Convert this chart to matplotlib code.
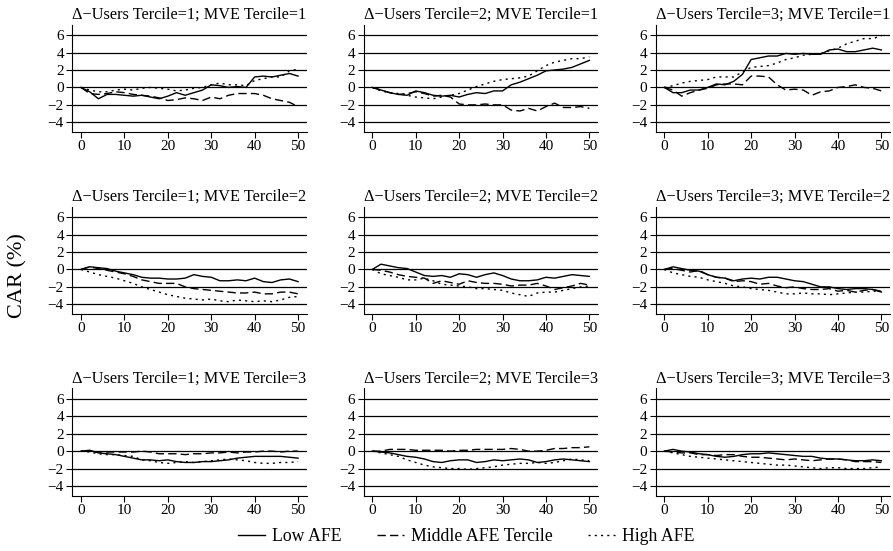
import matplotlib
matplotlib.use('Agg')
import matplotlib.pyplot as plt

plt.rcParams['font.family'] = ['Liberation Serif', 'DejaVu Serif']

# event days (every 2nd day)
dias = list(range(0, 51, 2))

# CAR (%) por painel: (tercil de usuarios, tercil de MVE)
low_11 = [0, -0.5, -1.3, -0.8, -0.8, -0.9, -1.0, -0.9, -1.1, -1.3, -1.0, -0.6, -0.9, -0.6, -0.3, 0.3, 0.2, 0.0, 0.1, 0.0, 1.2, 1.3, 1.2, 1.4, 1.6, 1.3]
mid_11 = [0, -0.7, -0.8, -0.7, -0.5, -0.6, -0.8, -0.9, -1.0, -1.2, -1.5, -1.4, -1.2, -1.3, -1.5, -1.1, -1.3, -0.9, -0.7, -0.7, -0.7, -0.9, -1.3, -1.5, -1.7, -2.2]
high_11 = [0, -0.3, -0.5, -0.5, -0.3, -0.2, -0.3, -0.1, 0.0, -0.1, -0.2, -0.4, -0.3, -0.1, 0.0, 0.3, 0.5, 0.3, 0.3, 0.2, 0.8, 1.0, 1.2, 1.2, 1.9, 2.1]

low_21 = [0, -0.3, -0.6, -0.8, -0.9, -0.4, -0.6, -0.9, -1.0, -0.9, -1.1, -0.8, -0.6, -0.7, -0.4, -0.4, 0.3, 0.6, 1.0, 1.4, 1.9, 2.0, 2.1, 2.3, 2.7, 3.1]
mid_21 = [0, -0.3, -0.6, -0.8, -0.7, -0.5, -0.7, -1.0, -0.9, -1.1, -1.9, -2.0, -2.0, -1.9, -2.0, -2.0, -2.6, -2.7, -2.4, -2.7, -2.2, -1.8, -2.3, -2.3, -2.2, -2.4]
high_21 = [0, -0.4, -0.6, -0.7, -0.9, -1.1, -1.2, -1.3, -1.1, -0.9, -0.7, -0.3, 0.1, 0.4, 0.7, 0.9, 1.0, 1.1, 1.3, 1.9, 2.5, 2.9, 3.1, 3.3, 3.3, 3.5]

low_31 = [0, -0.6, -0.6, -0.3, -0.3, 0.0, 0.4, 0.3, 0.7, 1.5, 3.2, 3.4, 3.6, 3.6, 3.9, 3.8, 3.9, 3.8, 3.8, 4.3, 4.4, 4.1, 4.1, 4.3, 4.5, 4.3]
mid_31 = [0, -0.3, -1.0, -0.6, -0.3, -0.1, 0.3, 0.4, 0.4, 0.3, 1.3, 1.3, 1.2, 0.3, -0.3, -0.2, -0.3, -0.9, -0.5, -0.4, 0.0, 0.1, 0.3, 0.0, -0.1, -0.4]
high_31 = [0, 0.2, 0.5, 0.7, 0.8, 0.9, 1.2, 1.2, 1.2, 1.8, 2.3, 2.4, 2.5, 2.8, 3.2, 3.4, 3.7, 3.8, 3.9, 4.2, 4.5, 5.0, 5.3, 5.6, 5.6, 5.9]

low_12 = [0, 0.3, 0.2, 0.1, -0.2, -0.4, -0.6, -0.9, -1.0, -1.0, -1.1, -1.1, -1.0, -0.6, -0.8, -0.9, -1.3, -1.3, -1.2, -1.3, -1.0, -1.4, -1.5, -1.2, -1.1, -1.4]
mid_12 = [0, 0.3, 0.1, -0.1, -0.3, -0.5, -0.8, -1.2, -1.4, -1.6, -1.6, -1.6, -2.0, -2.2, -2.3, -2.4, -2.5, -2.6, -2.7, -2.7, -2.6, -2.8, -2.8, -2.6, -2.6, -2.8]
high_12 = [0, -0.3, -0.6, -0.8, -1.0, -1.3, -1.6, -2.0, -2.3, -2.6, -2.9, -3.1, -3.3, -3.4, -3.5, -3.4, -3.6, -3.7, -3.5, -3.6, -3.7, -3.6, -3.7, -3.5, -3.2, -3.1]

low_22 = [0, 0.6, 0.4, 0.2, 0.1, -0.3, -0.7, -0.8, -0.7, -0.9, -0.5, -0.6, -0.9, -0.6, -0.4, -0.7, -1.1, -1.3, -1.3, -1.2, -0.9, -1.0, -0.8, -0.6, -0.7, -0.8]
mid_22 = [0, -0.1, -0.3, -0.6, -0.8, -0.9, -1.0, -1.6, -1.3, -1.5, -1.7, -1.3, -1.5, -1.6, -1.6, -1.7, -1.9, -1.8, -1.8, -1.6, -1.9, -2.3, -2.1, -1.9, -1.6, -1.8]
high_22 = [0, -0.5, -0.7, -0.9, -1.2, -1.2, -1.0, -1.3, -1.7, -1.8, -1.9, -2.0, -2.2, -2.2, -2.3, -2.4, -2.7, -2.9, -3.1, -2.7, -2.6, -2.6, -2.4, -2.2, -2.0, -1.9]

low_32 = [0, 0.3, 0.1, -0.1, -0.2, -0.6, -0.9, -1.0, -1.3, -1.1, -1.0, -1.1, -0.9, -0.9, -1.1, -1.3, -1.4, -1.7, -2.0, -2.0, -2.2, -2.3, -2.2, -2.2, -2.3, -2.6]
mid_32 = [0, 0.1, -0.1, -0.3, -0.1, -0.6, -0.9, -1.0, -1.4, -1.3, -1.4, -1.7, -1.6, -1.9, -2.1, -2.0, -2.2, -2.3, -2.3, -2.2, -2.5, -2.4, -2.6, -2.4, -2.3, -2.5]
high_32 = [0, -0.4, -0.6, -0.8, -0.9, -1.2, -1.4, -1.6, -1.9, -2.0, -2.2, -2.3, -2.4, -2.6, -2.8, -2.8, -2.7, -2.8, -2.8, -2.9, -2.8, -2.7, -2.6, -2.6, -2.5, -2.5]

low_13 = [0, 0.1, -0.2, -0.3, -0.4, -0.6, -0.8, -1.0, -1.0, -1.1, -1.0, -1.2, -1.3, -1.3, -1.2, -1.2, -1.1, -1.0, -0.8, -0.7, -0.6, -0.6, -0.6, -0.6, -0.7, -0.8]
mid_13 = [0, 0.0, -0.1, -0.1, -0.1, -0.1, -0.1, 0.0, -0.1, -0.3, -0.3, -0.3, -0.4, -0.3, -0.3, -0.2, -0.2, -0.1, -0.2, -0.1, -0.1, 0.0, 0.0, -0.1, 0.0, 0.0]
high_13 = [0, -0.1, -0.3, -0.4, -0.4, -0.5, -0.6, -1.0, -1.1, -1.3, -1.4, -1.3, -1.2, -1.3, -1.2, -1.1, -1.0, -0.9, -1.0, -1.1, -1.3, -1.4, -1.4, -1.3, -1.3, -1.2]

low_23 = [0, -0.1, -0.2, -0.4, -0.6, -0.7, -0.9, -1.2, -1.3, -1.1, -1.0, -1.0, -1.3, -1.2, -1.0, -1.1, -1.0, -0.9, -1.0, -1.3, -1.2, -1.0, -0.9, -1.0, -1.1, -1.2]
mid_23 = [0, 0.0, 0.2, 0.2, 0.2, 0.1, 0.1, 0.1, 0.1, 0.0, 0.1, 0.1, 0.2, 0.2, 0.2, 0.2, 0.3, 0.2, 0.0, 0.0, 0.1, 0.3, 0.3, 0.4, 0.4, 0.5]
high_23 = [0, -0.2, -0.4, -0.6, -1.0, -1.3, -1.6, -1.8, -1.9, -2.0, -2.0, -2.1, -2.0, -1.9, -1.8, -1.6, -1.5, -1.4, -1.4, -1.3, -1.4, -1.3, -1.1, -0.9, -1.0, -1.1]

low_33 = [0, 0.2, 0.0, -0.1, -0.3, -0.4, -0.6, -0.7, -0.6, -0.4, -0.3, -0.3, -0.2, -0.3, -0.4, -0.5, -0.6, -0.6, -0.8, -0.9, -0.9, -1.0, -1.1, -1.1, -1.0, -1.1]
mid_33 = [0, -0.1, -0.2, -0.2, -0.4, -0.4, -0.5, -0.4, -0.4, -0.6, -0.7, -0.7, -0.8, -0.9, -1.0, -0.9, -1.0, -1.1, -1.0, -0.9, -0.9, -1.0, -1.2, -1.2, -1.2, -1.3]
high_33 = [0, -0.2, -0.4, -0.6, -0.7, -0.8, -0.9, -1.0, -1.1, -1.2, -1.3, -1.4, -1.5, -1.6, -1.6, -1.7, -1.8, -1.9, -2.0, -1.9, -1.9, -2.0, -2.0, -2.0, -1.9, -1.8]

paineis = {
    (1, 1): (low_11, mid_11, high_11), (2, 1): (low_21, mid_21, high_21), (3, 1): (low_31, mid_31, high_31),
    (1, 2): (low_12, mid_12, high_12), (2, 2): (low_22, mid_22, high_22), (3, 2): (low_32, mid_32, high_32),
    (1, 3): (low_13, mid_13, high_13), (2, 3): (low_23, mid_23, high_23), (3, 3): (low_33, mid_33, high_33),
}

y_ticks = [-4, -2, 0, 2, 4, 6]
x_ticks = [0, 10, 20, 30, 40, 50]
nomes = ['Low AFE', 'Middle AFE Tercile', 'High AFE']
estilos = ['-', (0, (6, 3)), (0, (1.5, 3))]

fig = plt.figure(figsize=(8.93, 5.51), dpi=100)

# posicao dos paineis (em fracao da figura)
lefts = [0.081, 0.4072, 0.7342]
bottoms = [0.7606, 0.4303, 0.1005]
w, h = 0.2625, 0.1947

for (u, m), series in paineis.items():
    ax = fig.add_axes([lefts[u - 1], bottoms[m - 1], w, h])
    for yv in y_ticks:
        ax.axhline(yv, color='black', lw=0.9, zorder=1)
    for serie, ls, nome in zip(series, estilos, nomes):
        ax.plot(dias, serie, color='black', lw=1.0, linestyle=ls, label=nome, zorder=2)
    ax.set_xlim(-2, 52)
    ax.set_ylim(-5.1, 7.2)
    ax.set_xticks(x_ticks)
    ax.set_yticks(y_ticks)
    ax.tick_params(labelsize=11, length=4, width=0.8, pad=2)
    ax.spines['top'].set_visible(False)
    ax.spines['right'].set_visible(False)
    ax.set_title(f'\u0394\u2212Users Tercile={u}; MVE Tercile={m}', fontsize=11.7, pad=4)

fig.text(0.02, 0.5, 'CAR (%)', rotation=90, fontsize=16, va='center', ha='center')

handles = [plt.Line2D([], [], color='black', lw=1.0, linestyle=ls) for ls in estilos]
fig.legend(handles, nomes, loc='center', bbox_to_anchor=(0.522, 0.026), ncol=3,
           frameon=False, fontsize=12.8, handlelength=1.5, columnspacing=2.0, handletextpad=0.4)

fig.savefig('out.png', dpi=100)
